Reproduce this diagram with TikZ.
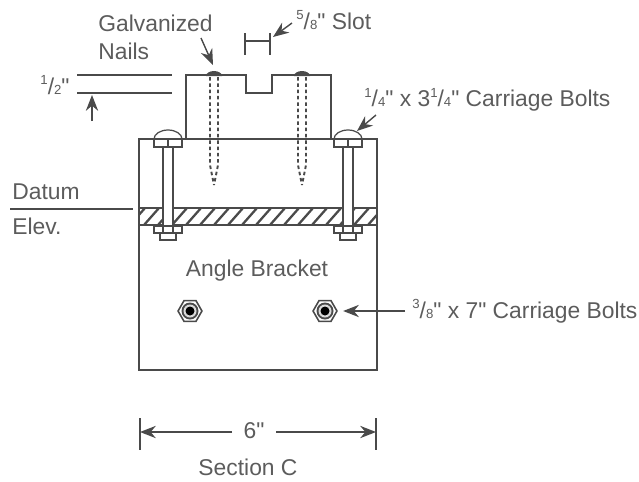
\documentclass[tikz,border=0pt]{standalone}
\usepackage{fontspec}
\setmainfont{Liberation Sans}[Ligatures=TeXOff]
\usepackage{tikz}
\usetikzlibrary{arrows.meta,shapes.geometric}
\newcommand{\frc}[2]{\raisebox{.42em}{\fontsize{7.5}{9}\selectfont #1}/{\fontsize{7.5}{9}\selectfont #2}}
\definecolor{inkgray}{HTML}{4A4A4A}
\definecolor{textgray}{HTML}{5C5C5C}

\begin{document}
\begin{tikzpicture}[
  x=0.02cm, y=-0.02cm,
  >={Stealth[length=9pt,width=7pt]},
  every node/.style={font=\fontsize{13}{15}\selectfont, text=textgray, inner sep=0pt},
  part/.style={draw=inkgray, line width=0.9pt},
  thinpart/.style={draw=inkgray, line width=0.7pt},
  nailline/.style={draw=inkgray, line width=1.1pt, dash pattern=on 2pt off 1.6pt},
  leader/.style={draw=inkgray, line width=0.8pt, ->},
  hexnut/.style={draw=inkgray, line width=0.9pt, fill=white, regular polygon, regular polygon sides=6, minimum size=24*0.567pt}
]
\useasboundingbox (0,0) rectangle (639,481);

% --- Angle bracket and stud ---
\draw[part] (139,139) rectangle (377,370);
\draw[part] (186,139) -- (186,75) -- (246,75) -- (246,93) -- (272,93) -- (272,75) -- (331,75) -- (331,139);

% --- Hatched band ---
\begin{scope}
  \clip (139,208) rectangle (377,225);
  \foreach \hx in {130,144,...,390} {
    \draw[draw=inkgray, line width=1.3pt] (\hx,225) -- (\hx+15,208);
  }
\end{scope}
\draw[part] (139,208) -- (377,208);
\draw[part, line width=1.1pt] (139,225) -- (377,225);

% --- Carriage bolts ---
\foreach \bx in {168,348} {
  \draw[thinpart, fill=white] (\bx-5,147) rectangle (\bx+5,226);
  \draw[thinpart, fill=white] (\bx-14,139) arc[start angle=180, end angle=360, x radius=14, y radius=9];
  \draw[thinpart, fill=white] (\bx-14,139) rectangle (\bx+14,147);
  \draw[thinpart] (\bx,139) -- (\bx,147);
  \draw[thinpart, fill=white] (\bx-14,226) rectangle (\bx+14,233);
  \draw[thinpart, fill=white] (\bx-8,233) rectangle (\bx+8,240);
  \draw[thinpart] (\bx-5,226) -- (\bx-5,233) (\bx+5,226) -- (\bx+5,233);
}

% --- Galvanized nails ---
\foreach \nx in {214,302} {
  \draw[nailline] (\nx-4,77) -- (\nx-4,165) -- (\nx,185);
  \draw[nailline] (\nx+4,77) -- (\nx+4,165) -- (\nx,185);
  \fill[inkgray] (\nx-8,76) arc[start angle=180, end angle=360, x radius=8, y radius=5] -- cycle;
}

% --- Through bolts ---
\foreach \bx/\bname in {190/boltl,325/boltr} {
  \node[hexnut] (\bname) at (\bx,311) {};
  \fill[inkgray] (\bx,311) circle[radius=8.5];
  \fill[white!80!inkgray] (\bx,311) circle[radius=6.5];
  \fill[black] (\bx,311) circle[radius=4.5];
}

% --- Half inch mark ---
\node (half) at (55,85) {\frc{1}{2}"};
\draw[part] (77,75) -- (172,75);
\draw[part] (77,93) -- (172,93);
\coordinate (halftail) at (92,121);
\coordinate (halftip) at (92,95);
\draw[leader] (halftail) -- (halftip);

% --- Slot mark ---
\node[anchor=west] (slot) at (296,20) {\frc{5}{8}" Slot};
\draw[part] (245,41) -- (270,41);
\draw[part] (245,33) -- (245,55);
\draw[part] (270,33) -- (270,55);
\coordinate (slottail) at (292,23);
\coordinate (slottip) at (273,37);
\draw[leader] (slottail) -- (slottip);

% --- Labels with leaders ---
\node[anchor=west] (galv) at (98,23) {Galvanized};
\node[anchor=west] (nails) at (98,51) {Nails};
\coordinate (nailtail) at (201,38);
\coordinate (nailtip) at (213,65);
\draw[leader] (nailtail) -- (nailtip);

\node[anchor=west] (topbolt) at (364,100) {\frc{1}{4}" x 3\frc{1}{4}" Carriage Bolts};
\coordinate (toptail) at (376,115);
\coordinate (toptip) at (357,131);
\draw[leader] (toptail) -- (toptip);

\node[anchor=west] (sidebolt) at (412,311) {\frc{3}{8}" x 7" Carriage Bolts};
\coordinate (sidetail) at (405,311);
\draw[leader, shorten >=3pt] (sidetail) -- (boltr.east);

% --- Datum ---
\node[anchor=west] (datum) at (12,192) {Datum};
\node[anchor=west] (elev) at (12,226) {Elev.};
\draw[part] (10,209) -- (133,209);

% --- Bracket text ---
\node (angle) at (257,271) {Angle Bracket};

% --- Width dimension ---
\node (six) at (254,431) {6"};
\node (section) at (248,467) {Section C};
\coordinate (dimleft) at (140,432);
\coordinate (dimright) at (376,432);
\coordinate (dimtaill) at (232,432);
\coordinate (dimtailr) at (276,432);
\draw[part] (140,418) -- (140,450);
\draw[part] (376,418) -- (376,450);
\draw[leader] (dimtaill) -- (dimleft);
\draw[leader] (dimtailr) -- (dimright);

\end{tikzpicture}
\end{document}
